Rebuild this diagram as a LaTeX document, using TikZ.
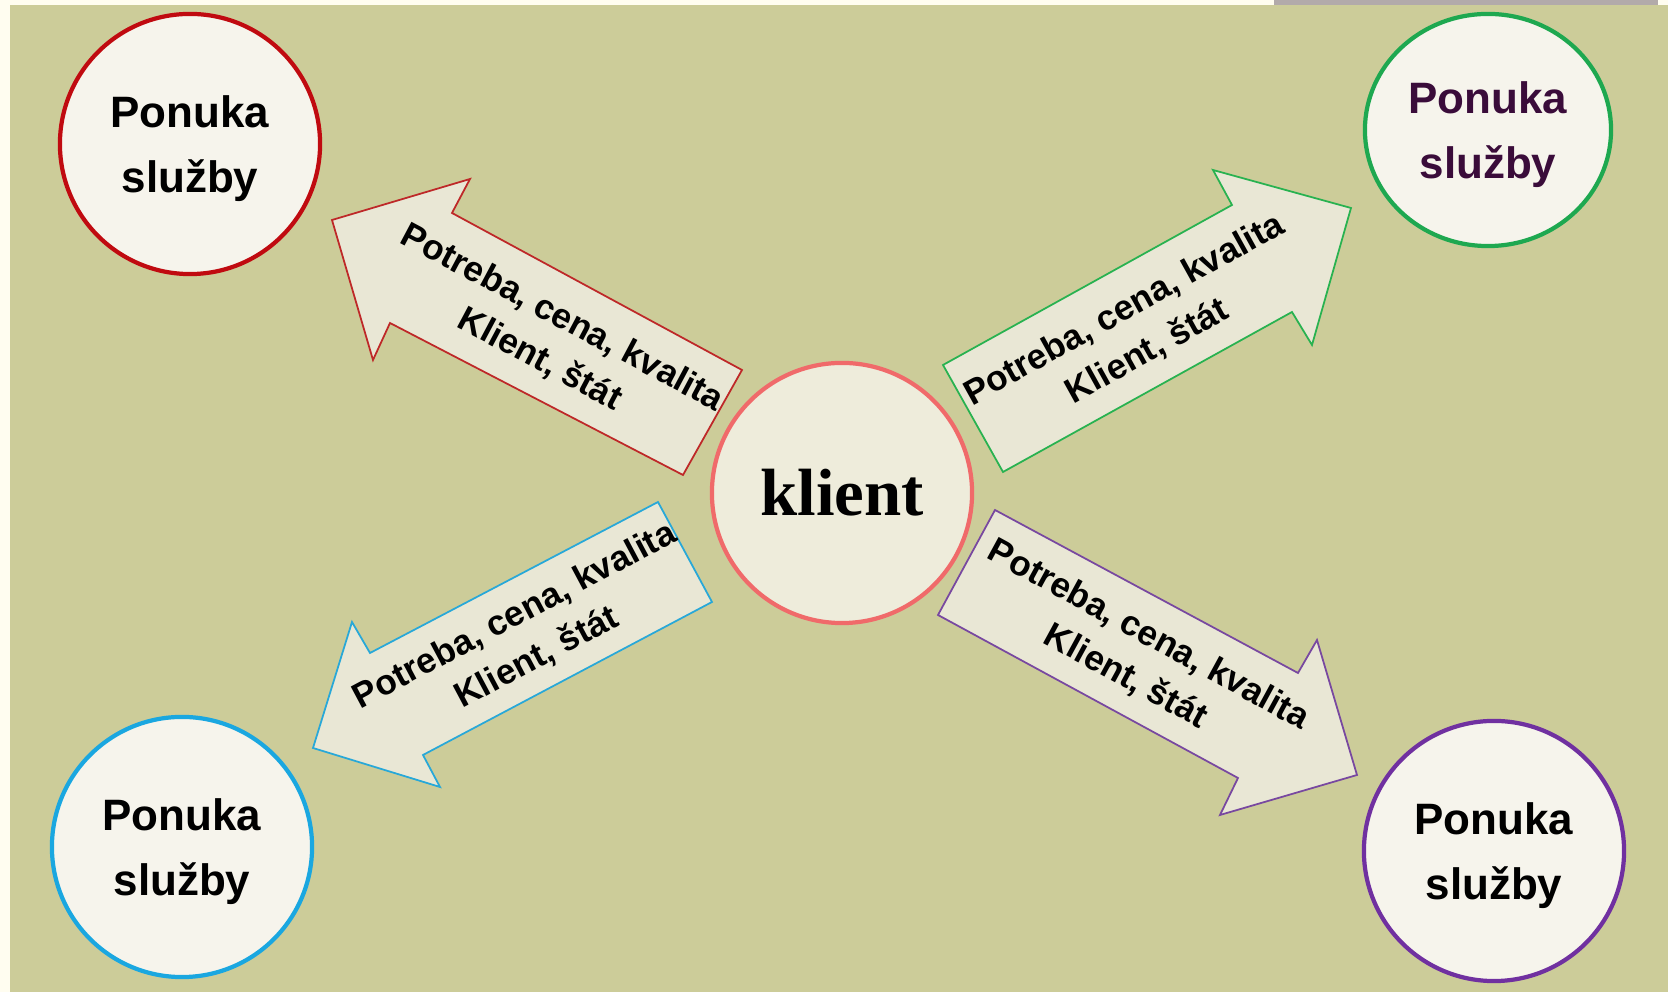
\documentclass[tikz,border=0pt]{standalone}
\usepackage{fontspec}
\usetikzlibrary{shapes.geometric}
\setmainfont{Liberation Serif}
\setsansfont{Liberation Sans}
\definecolor{cream}{RGB}{255,253,240}
\definecolor{olive}{RGB}{204,204,153}
\definecolor{bargray}{RGB}{178,170,170}
\definecolor{circfill}{RGB}{246,244,236}
\definecolor{klientfill}{RGB}{238,236,219}
\definecolor{arrowfill}{RGB}{233,231,213}
\definecolor{cred}{RGB}{192,10,16}
\definecolor{cgreen}{RGB}{30,168,80}
\definecolor{cblue}{RGB}{26,167,224}
\definecolor{cpurple}{RGB}{112,48,160}
\definecolor{csalmon}{RGB}{240,106,106}
\definecolor{ared}{RGB}{190,40,40}
\definecolor{agreen}{RGB}{40,178,80}
\definecolor{ablue}{RGB}{40,168,216}
\definecolor{apurple}{RGB}{120,72,160}
\definecolor{darkplum}{RGB}{58,12,58}
\newcommand{\offertext}{\rule{0pt}{11.5pt}Ponuka\\služby}
\tikzset{
  offer/.style={circle, draw, line width=1.2pt, fill=circfill, minimum size=2.6cm, inner sep=0pt,
    align=center, font=\sffamily\bfseries\fontsize{12.5}{18.5}\selectfont},
  blockarrow/.style={fill=arrowfill, line width=0.5pt},
  arrowtext/.style={align=center, inner sep=0pt, font=\sffamily\bfseries\fontsize{10}{13.5}\selectfont}
}
\begin{document}
\begin{tikzpicture}[x=0.01cm, y=-0.01cm]
\useasboundingbox (0,0) rectangle (1668,992);
\fill[cream] (0,0) rectangle (1668,992);
\fill[olive] (10,5) rectangle (1668,992);
\fill[bargray] (1274,0) rectangle (1658,5);

% block arrows
\draw[blockarrow, draw=ared] (742,370) -- (452,213) -- (470,179) -- (332,220) -- (373,360) -- (390,323) -- (683,475) -- cycle;
\draw[blockarrow, draw=agreen] (943,365) -- (1232,205) -- (1213,170) -- (1351,208) -- (1312,345) -- (1292,312) -- (1003,472) -- cycle;
\draw[blockarrow, draw=ablue] (658,502) -- (370,653) -- (352,622) -- (313,748) -- (440,787) -- (423,755) -- (712,602) -- cycle;
\draw[blockarrow, draw=apurple] (995,510) -- (1298,673) -- (1317,640) -- (1357,775) -- (1220,815) -- (1238,778) -- (938,615) -- cycle;

\node[arrowtext, rotate=-28] (tTL) at (551,339) {Potreba, cena, kvalita\\Klient, štát};
\node[arrowtext, rotate=29] (tTR) at (1136,331) {Potreba, cena, kvalita\\Klient, štát};
\node[arrowtext, rotate=28] (tBL) at (526,637) {Potreba, cena, kvalita\\Klient, štát};
\node[arrowtext, rotate=-28.6] (tBR) at (1137,656) {Potreba, cena, kvalita\\Klient, štát};

% circles
\node[offer, draw=cred] (oTL) at (190,144) {\offertext};
\node[offer, ellipse, draw=cgreen, text=darkplum, minimum size=0pt, minimum width=2.46cm, minimum height=2.32cm] (oTR) at (1488,130) {\offertext};
\node[offer, draw=cblue] (oBL) at (182,847) {\offertext};
\node[offer, draw=cpurple] (oBR) at (1494,851) {\offertext};
\node[circle, draw=csalmon, line width=1.2pt, fill=klientfill, minimum size=2.6cm, inner sep=0pt,
  font=\rmfamily\bfseries\fontsize{19}{22}\selectfont] (klient) at (842,493) {klient};
\end{tikzpicture}
\end{document}
